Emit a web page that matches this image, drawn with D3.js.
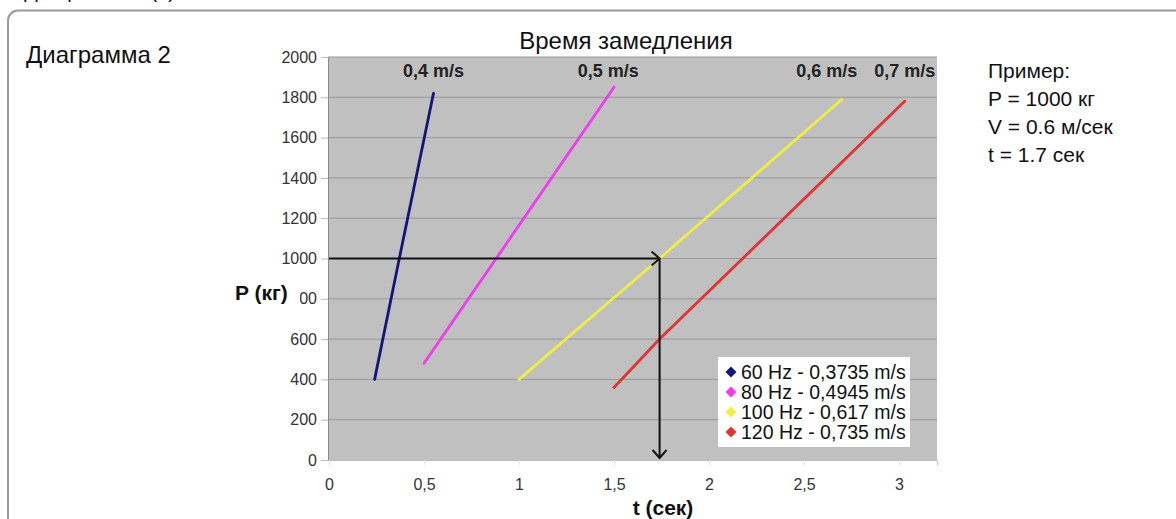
<!DOCTYPE html>
<html>
<head>
<meta charset="utf-8">
<script src="https://cdn.jsdelivr.net/npm/d3@7"></script>
<style>
  html, body { margin: 0; padding: 0; background: #fff; }
  svg { display: block; font-family: "Liberation Sans", Arial, sans-serif; }
</style>
</head>
<body>
<svg id="chart" width="1176" height="519"></svg>
<script>
// ── Data ──
const seriesNames  = ["60 Hz - 0,3735 m/s", "80 Hz - 0,4945 m/s", "100 Hz - 0,617 m/s", "120 Hz - 0,735 m/s"];
const seriesColors = ["#14147a", "#ee3cee", "#eeee44", "#e03434"];
const speedLabels  = ["0,4 m/s", "0,5 m/s", "0,6 m/s", "0,7 m/s"];
const speedLabelT  = [0.55, 1.47, 2.62, 3.03];

// [t (сек), P (кг)]
const line60  = [[0.24, 400], [0.37, 1000], [0.55, 1820]];
const line80  = [[0.50, 480], [0.88, 1000], [1.50, 1850]];
const line100 = [[1.00, 400], [1.74, 1000], [2.70, 1790]];
const line120 = [[1.50, 360], [1.74, 600], [3.03, 1780]];
const lines = [line60, line80, line100, line120];

const yTicks = [0, 200, 400, 600, 800, 1000, 1200, 1400, 1600, 1800, 2000];
const xTicks = [0, 0.5, 1, 1.5, 2, 2.5, 3];

const exampleP = 1000, exampleT = 1.74;
const exampleLines = ["Пример:", "P = 1000 кг", "V = 0.6 м/сек", "t = 1.7 сек"];

// ── Layout ──
const svg = d3.select("#chart");
const plot = { left: 328, right: 937, top: 57, bottom: 460 };

const x = d3.scaleLinear().domain([0, 3.2]).range([plot.left + 1, plot.right]);
const y = d3.scaleLinear().domain([0, 2000]).range([plot.bottom, plot.top]);

// caption above the frame, cut by the top edge as in the source
svg.append("text")
  .attr("x", 2).attr("y", -2)
  .attr("font-size", 20).attr("fill", "#111")
  .text("3. Диаграмма 2 (3)");

// rounded frame (runs off the right and bottom)
svg.append("rect")
  .attr("x", 8).attr("y", 10.5)
  .attr("width", 1200).attr("height", 560)
  .attr("rx", 10)
  .attr("fill", "none")
  .attr("stroke", "#9a9a9a")
  .attr("stroke-width", 2);

svg.append("text")
  .attr("x", 26).attr("y", 63)
  .attr("font-size", 24).attr("fill", "#111")
  .text("Диаграмма 2");

svg.append("text")
  .attr("x", 626).attr("y", 49)
  .attr("text-anchor", "middle")
  .attr("font-size", 24).attr("fill", "#111")
  .text("Время замедления");

// plot background
svg.append("rect")
  .attr("x", plot.left).attr("y", plot.top)
  .attr("width", plot.right - plot.left)
  .attr("height", plot.bottom - plot.top)
  .attr("fill", "#c0c0c0");

// horizontal grid
svg.append("g")
  .selectAll("line")
  .data(yTicks.filter(d => d > 0))
  .join("line")
    .attr("x1", plot.left).attr("x2", plot.right)
    .attr("y1", d => y(d)).attr("y2", d => y(d))
    .attr("stroke", "#989898")
    .attr("stroke-width", 1);

// y axis
const yAxis = svg.append("g")
  .attr("transform", `translate(${plot.left},0)`)
  .call(d3.axisLeft(y).tickValues(yTicks).tickSize(7).tickPadding(4).tickFormat(d3.format("d")));
yAxis.select(".domain").attr("stroke", "#8a8a8a");
yAxis.selectAll(".tick line").attr("stroke", "#b8b8b8");
yAxis.selectAll(".tick text")
  .attr("font-family", "Liberation Sans, Arial, sans-serif")
  .attr("font-size", 16).attr("fill", "#333");

// x axis
const xAxis = svg.append("g")
  .attr("transform", `translate(0,${plot.bottom})`)
  .call(d3.axisBottom(x).tickValues(xTicks).tickSize(5).tickPadding(14)
    .tickFormat(d => String(d).replace(".", ",")));
xAxis.select(".domain").attr("stroke", "#bdbdbd");
xAxis.selectAll(".tick line").attr("stroke", "#e0e0e0");
xAxis.selectAll(".tick text")
  .attr("font-family", "Liberation Sans, Arial, sans-serif")
  .attr("font-size", 16).attr("fill", "#333");

// axis titles (the y title has a white box that hides part of "800")
svg.append("rect")
  .attr("x", 228).attr("y", 280).attr("width", 72).attr("height", 26)
  .attr("fill", "#fff");
svg.append("text")
  .attr("x", 235).attr("y", 300)
  .attr("font-size", 21).attr("font-weight", "bold").attr("fill", "#111")
  .text("P (кг)");
svg.append("text")
  .attr("x", 663).attr("y", 515)
  .attr("text-anchor", "middle")
  .attr("font-size", 21).attr("font-weight", "bold").attr("fill", "#111")
  .text("t (сек)");

// series lines
const lineGen = d3.line().x(d => x(d[0])).y(d => y(d[1]));
svg.append("g")
  .selectAll("path")
  .data(lines)
  .join("path")
    .attr("d", lineGen)
    .attr("fill", "none")
    .attr("stroke", (d, i) => seriesColors[i])
    .attr("stroke-width", 2.8)
    .attr("stroke-linecap", "round");

// speed labels above lines
svg.append("g")
  .selectAll("text")
  .data(speedLabels)
  .join("text")
    .attr("x", (d, i) => x(speedLabelT[i]))
    .attr("y", 77)
    .attr("text-anchor", "middle")
    .attr("font-size", 18).attr("font-weight", "bold").attr("fill", "#222")
    .text(d => d);

// example arrows: P = 1000 → t
const ax = x(exampleT), ay = y(exampleP);
svg.append("path")
  .attr("d", `M${x(0)},${ay}H${ax}M${ax},${ay}V${plot.bottom - 2}`)
  .attr("fill", "none").attr("stroke", "#111").attr("stroke-width", 2);
svg.append("path")
  .attr("d", `M${ax - 8},${ay - 7}L${ax},${ay}L${ax - 8},${ay + 7}`)
  .attr("fill", "none").attr("stroke", "#111").attr("stroke-width", 2);
svg.append("path")
  .attr("d", `M${ax - 7},${plot.bottom - 10}L${ax},${plot.bottom - 2}L${ax + 7},${plot.bottom - 10}`)
  .attr("fill", "none").attr("stroke", "#111").attr("stroke-width", 2);

// legend
const legend = svg.append("g").attr("transform", "translate(718,357)");
legend.append("rect")
  .attr("width", 192).attr("height", 90)
  .attr("fill", "#fff");
const items = legend.selectAll("g.item")
  .data(seriesNames)
  .join("g")
    .attr("class", "item")
    .attr("transform", (d, i) => `translate(0,${15 + i * 20})`);
items.append("path")
  .attr("d", d3.symbol(d3.symbolSquare, 60))
  .attr("transform", "translate(13,0) rotate(45)")
  .attr("fill", (d, i) => seriesColors[i]);
items.append("text")
  .attr("x", 23).attr("y", 7)
  .attr("font-size", 19.5).attr("fill", "#111")
  .text(d => d);

// example block
svg.append("g")
  .selectAll("text")
  .data(exampleLines)
  .join("text")
    .attr("x", 988)
    .attr("y", (d, i) => 78 + i * 28)
    .attr("font-size", 21).attr("fill", "#111")
    .text(d => d);
</script>
</body>
</html>
